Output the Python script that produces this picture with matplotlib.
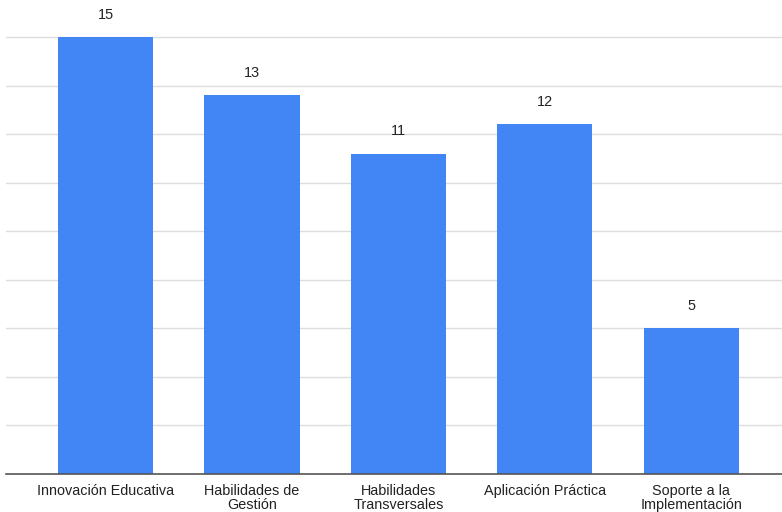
import numpy as np
import matplotlib.pyplot as plt

categories = ["Innovación Educativa", "Habilidades de\nGestión", "Habilidades\nTransversales",
              "Aplicación Práctica", "Soporte a la\nImplementación"]
values = [15, 13, 11, 12, 5]

plt.rcParams['font.family'] = ['Liberation Sans', 'DejaVu Sans']

fig = plt.figure(figsize=(7.82, 5.12), dpi=100)
ax = fig.add_axes([6 / 782, 38 / 512, 776 / 782, 474 / 512])

x = np.arange(len(categories))
ax.bar(x, values, width=0.65, color='#4285F4', zorder=3)

for xi, v in zip(x, values):
    ax.annotate(str(v), (xi, v), xytext=(0, 11), textcoords='offset points',
                ha='center', va='bottom', fontsize=10.4, color='#222222')

ax.set_xlim(-0.68, 4.62)
ax.set_ylim(0, 16.27)
ax.set_yticks(np.arange(1, 10) * 15 / 9)
ax.set_yticklabels([])
ax.tick_params(axis='y', length=0)
ax.grid(axis='y', color='#dddddd', linewidth=1, zorder=0)

ax.set_xticks(x)
ax.set_xticklabels(categories, fontsize=10.4, color='#222222', linespacing=1.0)
ax.tick_params(axis='x', length=0, pad=7)

for s in ['top', 'right', 'left']:
    ax.spines[s].set_visible(False)
ax.spines['bottom'].set_color('#555555')
ax.spines['bottom'].set_linewidth(1.2)
ax.spines['bottom'].set_zorder(4)

fig.savefig('out.png', dpi=100)
